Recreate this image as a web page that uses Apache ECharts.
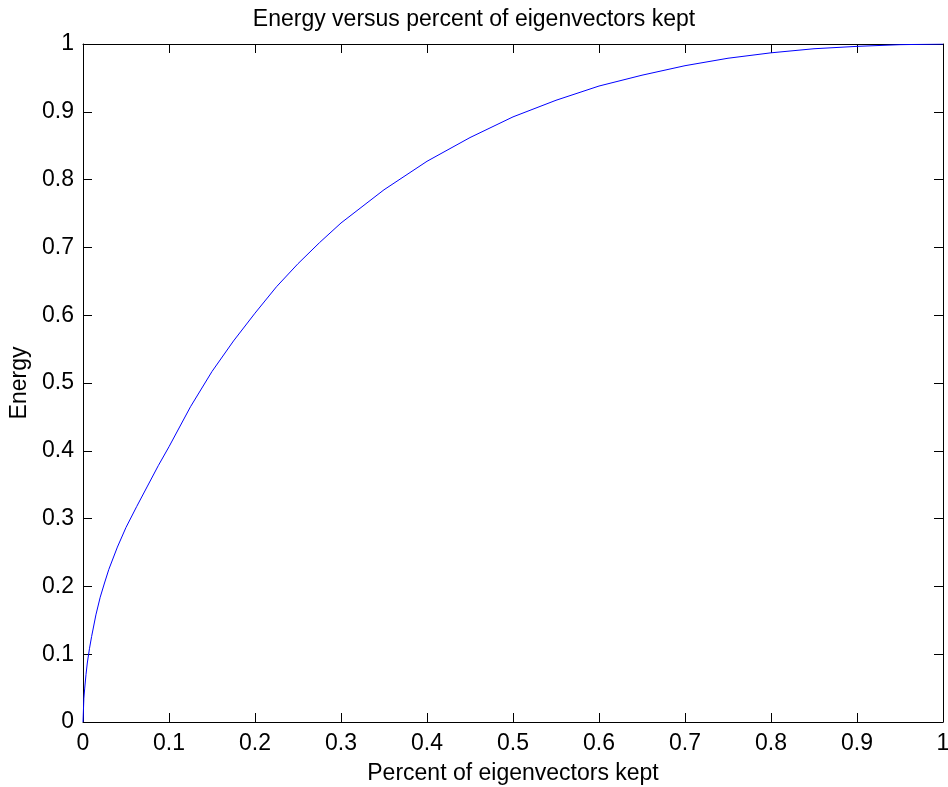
<!DOCTYPE html>
<html>
<head>
<meta charset="utf-8">
<script src="https://cdn.jsdelivr.net/npm/echarts@6/dist/echarts.min.js"></script>
<style>
html,body{margin:0;padding:0;background:#fff;}
#chart{width:948px;height:787px;}
</style>
</head>
<body>
<div id="chart"></div>
<script>
var chartTitle = 'Energy versus percent of eigenvectors kept';
var xAxisName = 'Percent of eigenvectors kept';
var yAxisName = 'Energy';
var percentKept = [0, 0.001, 0.002, 0.0035, 0.005, 0.0075, 0.01, 0.015, 0.02, 0.025, 0.03, 0.04, 0.05, 0.0625, 0.075, 0.0875, 0.1, 0.125, 0.15, 0.175, 0.2, 0.225, 0.25, 0.275, 0.3, 0.35, 0.4, 0.45, 0.5, 0.55, 0.6, 0.65, 0.7, 0.75, 0.8, 0.85, 0.9, 0.95, 1.0];
var energy = [0, 0.035, 0.05, 0.07, 0.087, 0.108, 0.126, 0.158, 0.184, 0.205, 0.225, 0.258, 0.287, 0.318, 0.348, 0.378, 0.406, 0.465, 0.517, 0.562, 0.603, 0.642, 0.676, 0.707, 0.736, 0.785, 0.827, 0.862, 0.8925, 0.917, 0.938, 0.954, 0.968, 0.979, 0.987, 0.993, 0.9965, 0.999, 1.0];

var points = percentKept.map(function (x, i) { return [x, energy[i]]; });

var font = 'Liberation Sans, Arial, Helvetica, sans-serif';
var fs = 23;
function ax(extra) {
  var base = {
    type: 'value', min: 0, max: 1, interval: 0.1,
    axisLine: { show: true, onZero: false, lineStyle: { color: '#000', width: 1 } },
    axisTick: { show: true, inside: true, length: 9, interval: 0, lineStyle: { color: '#000', width: 1 } },
    splitLine: { show: false }
  };
  return Object.assign(base, extra);
}

var chart = echarts.init(document.getElementById('chart'), null, { renderer: 'canvas' });
chart.setOption({
  animation: false,
  backgroundColor: '#fff',
  title: {
    text: chartTitle, left: 'center', top: 3,
    textStyle: { fontFamily: font, fontSize: fs, fontWeight: 'normal', color: '#000' }
  },
  grid: { left: 83, right: 5, top: 44, bottom: 65, containLabel: false, outerBoundsMode: 'none' },
  xAxis: [
    ax({ position: 'bottom',
      name: xAxisName, nameLocation: 'middle', nameGap: 40,
      nameTextStyle: { fontFamily: font, fontSize: fs, color: '#000' },
      axisLabel: { show: true, margin: 10, color: '#000', fontFamily: font, fontSize: fs } }),
    ax({ position: 'top', axisLabel: { show: false } })
  ],
  yAxis: [
    ax({ position: 'left',
      name: yAxisName, nameLocation: 'middle', nameGap: 51, nameRotate: 90,
      nameTextStyle: { fontFamily: font, fontSize: fs, color: '#000' },
      axisLabel: { show: true, margin: 9, color: '#000', fontFamily: font, fontSize: fs } }),
    ax({ position: 'right', axisLabel: { show: false } })
  ],
  series: [{
    type: 'line', data: points, showSymbol: false, smooth: false,
    lineStyle: { color: '#0000ff', width: 1 },
    xAxisIndex: 0, yAxisIndex: 0
  }]
});
</script>
</body>
</html>
